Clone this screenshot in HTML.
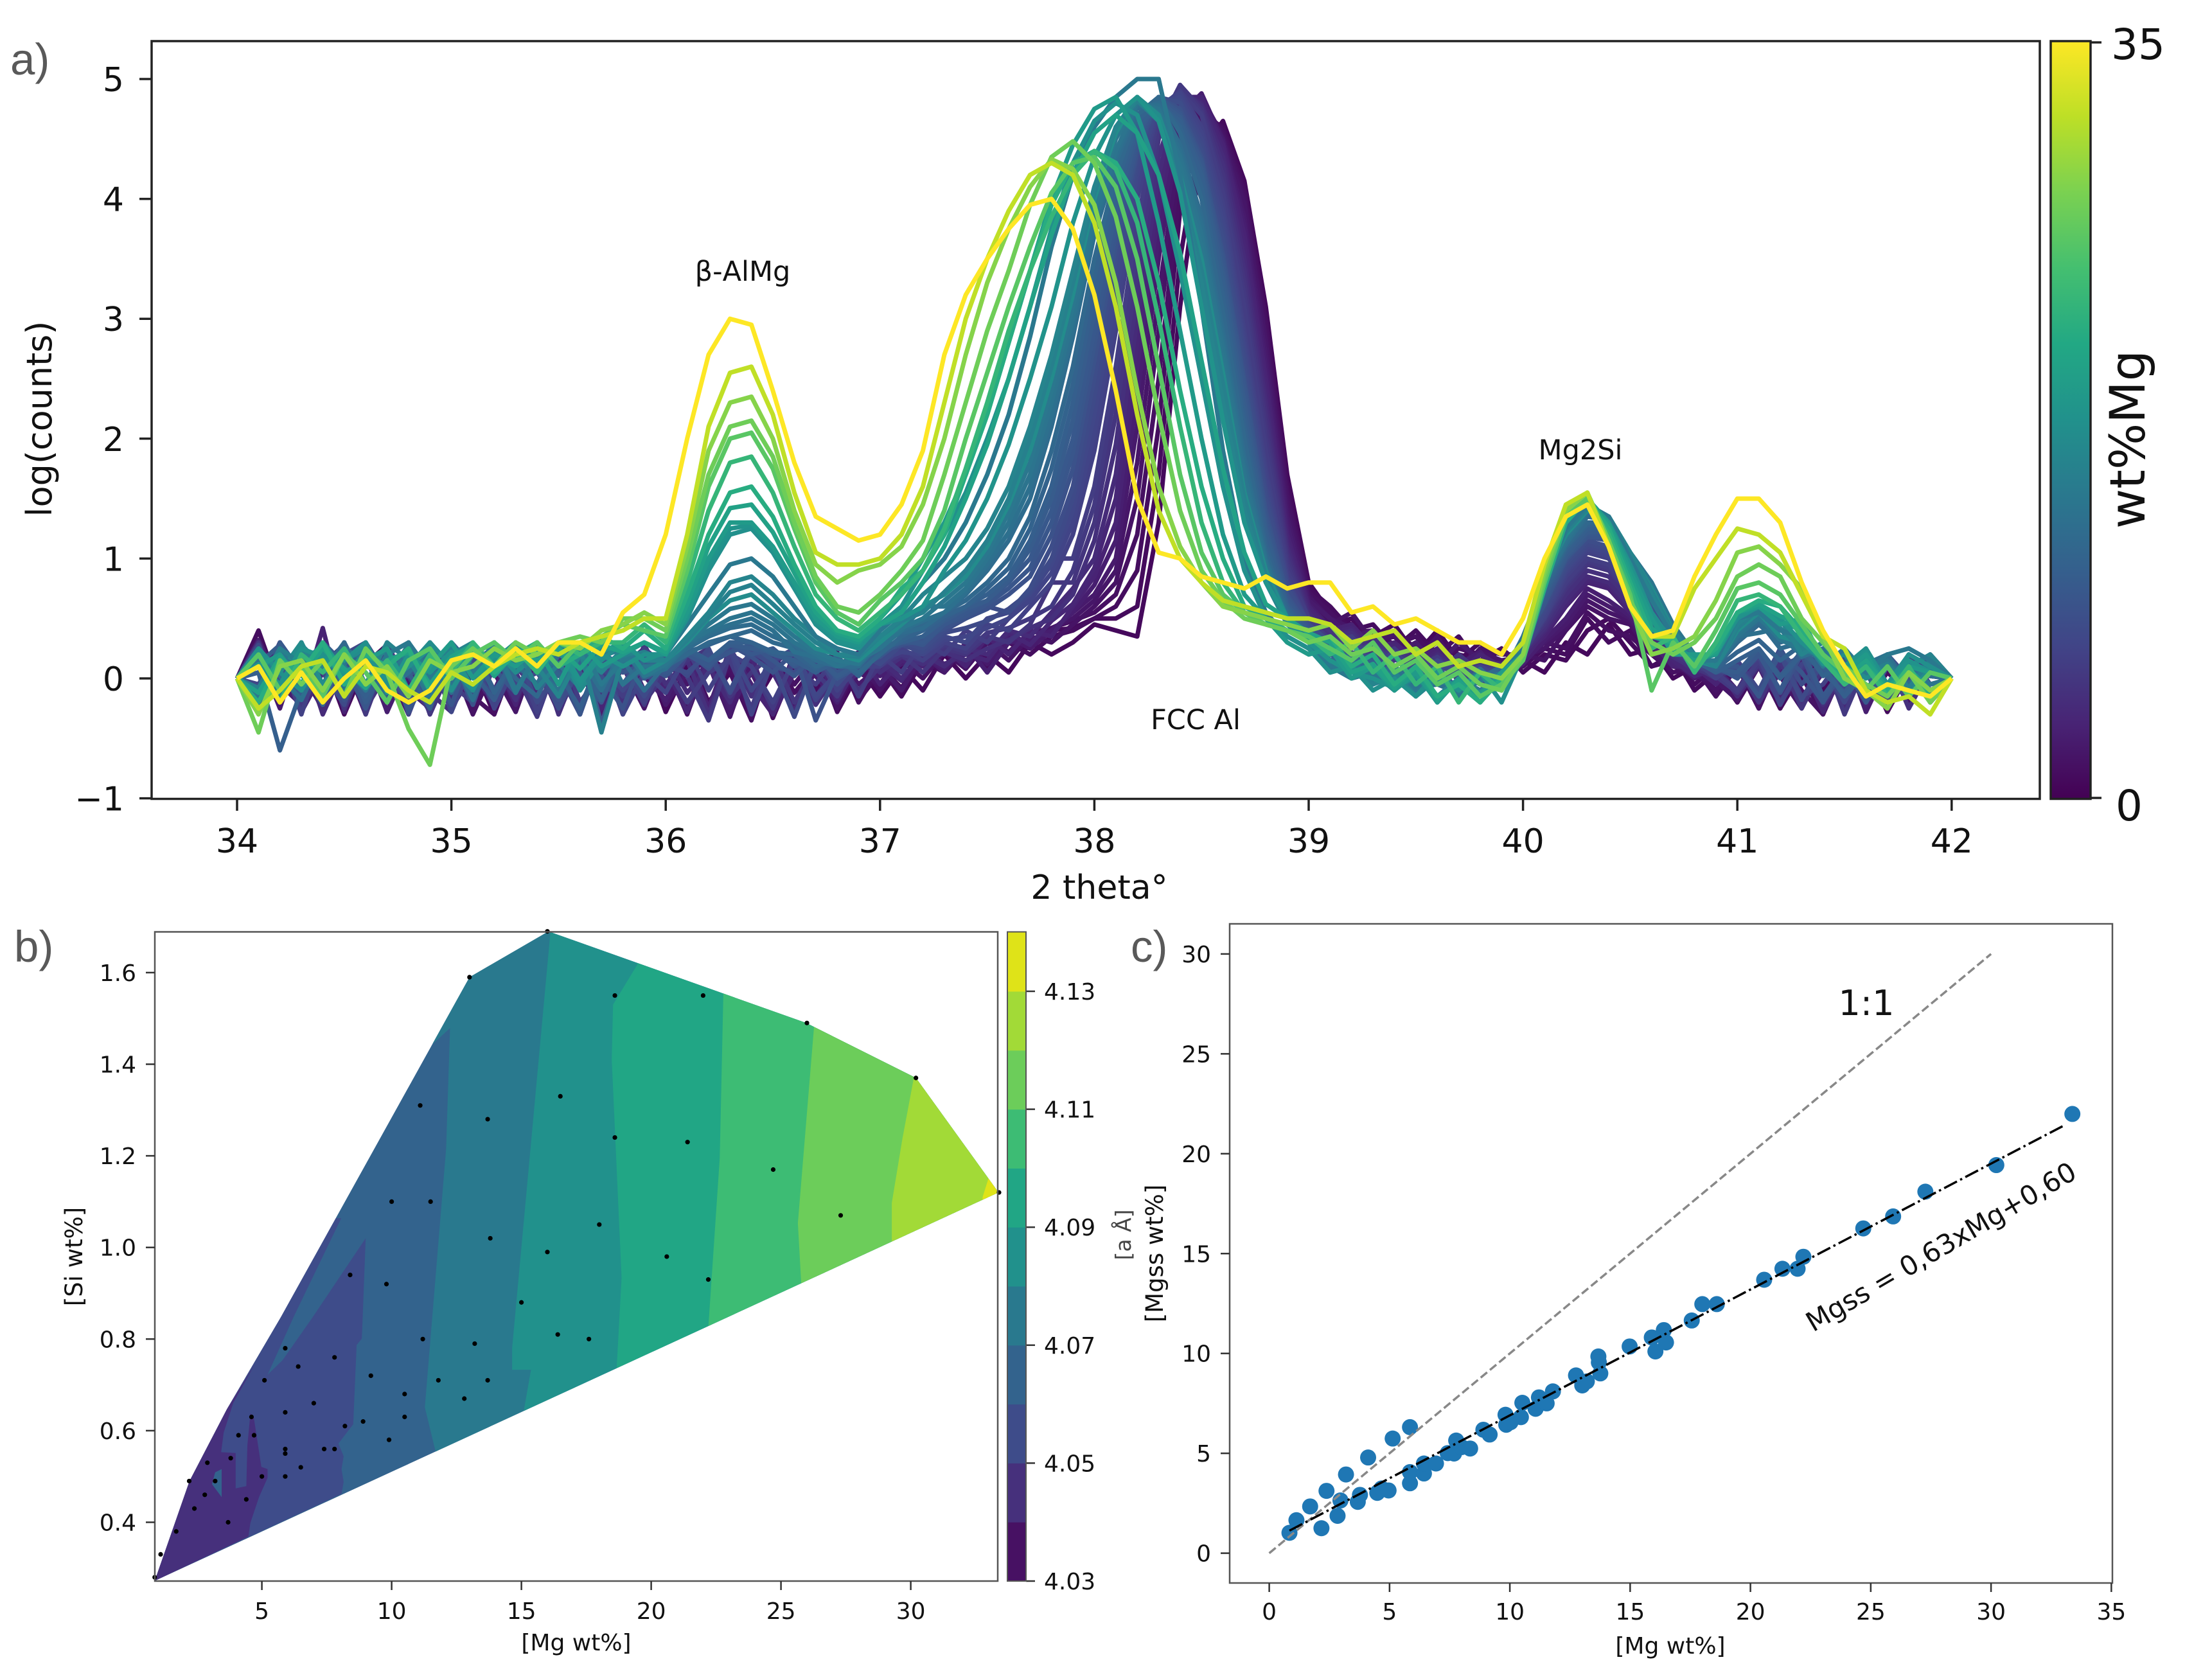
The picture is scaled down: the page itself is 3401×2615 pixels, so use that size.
<!DOCTYPE html>
<html>
<head>
<meta charset="utf-8">
<title>XRD spectra and Mg/Si composition charts</title>
<style>
html,body{margin:0;padding:0;background:#fff}
svg{display:block}
text{font-family:"DejaVu Sans","Liberation Sans",sans-serif;fill:#111}
.pl{font-family:"Liberation Sans",sans-serif;fill:#595959;font-size:69px}
</style>
</head>
<body>
<svg id="chart" xmlns="http://www.w3.org/2000/svg" width="3401" height="2615" viewBox="0 0 3401 2615">
<defs>
<linearGradient id="viridisGrad" x1="0" y1="1" x2="0" y2="0">
<stop offset="0" stop-color="#440154"/><stop offset=".1" stop-color="#482475"/><stop offset=".2" stop-color="#414487"/><stop offset=".3" stop-color="#355f8d"/><stop offset=".4" stop-color="#2a788e"/><stop offset=".5" stop-color="#21918c"/><stop offset=".6" stop-color="#22a884"/><stop offset=".7" stop-color="#44bf70"/><stop offset=".8" stop-color="#7ad151"/><stop offset=".9" stop-color="#bddf26"/><stop offset="1" stop-color="#fde725"/>
</linearGradient>
<clipPath id="hullClip"><polygon id="hullClipShape" points=""/></clipPath>
</defs>
<rect width="3401" height="2615" fill="#fff"/>

<g id="panelA">
<g id="aLines" fill="none" stroke-linejoin="round" stroke-width="7"></g>
<rect x="236" y="64" width="2939" height="1179.5" fill="none" stroke="#222" stroke-width="3.5"/>
<g id="aTicks"></g>
<text class="pl" x="16" y="116">a)</text>
<text x="1711" y="1399" font-size="52" text-anchor="middle">2 theta°</text>
<text transform="translate(80,652) rotate(-90)" font-size="54" text-anchor="middle">log(counts)</text>
<text x="1156" y="437" font-size="43" text-anchor="middle">β-AlMg</text>
<text x="2460" y="715" font-size="43" text-anchor="middle">Mg2Si</text>
<text x="1861" y="1135" font-size="43" text-anchor="middle">FCC Al</text>
<rect x="3192" y="64" width="62" height="1179.5" fill="url(#viridisGrad)" stroke="#222" stroke-width="3.5"/>
<line x1="3254" x2="3271" y1="66" y2="66" stroke="#222" stroke-width="3.5"/>
<line x1="3254" x2="3271" y1="1242" y2="1242" stroke="#222" stroke-width="3.5"/>
<text x="3286" y="92" font-size="66">35</text>
<text x="3293" y="1277" font-size="66">0</text>
<text transform="translate(3338,684) rotate(-90)" font-size="76" text-anchor="middle">wt%Mg</text>
</g>

<g id="panelB">
<g id="bContour" clip-path="url(#hullClip)"></g>
<g id="bDots"></g>
<rect x="241" y="1450.5" width="1312" height="1010.5" fill="none" stroke="#555" stroke-width="2.5"/>
<g id="bTicks"></g>
<g id="bBar"></g>
<rect x="1568" y="1450.5" width="29" height="1010.5" fill="none" stroke="#555" stroke-width="2"/>
<text class="pl" x="22" y="1497">b)</text>
<text x="897" y="2569" font-size="36" text-anchor="middle">[Mg wt%]</text>
<text transform="translate(128,1956) rotate(-90)" font-size="37" text-anchor="middle">[Si wt%]</text>
</g>

<g id="panelC">
<g id="cMarks"></g>
<rect x="1914" y="1438" width="1374" height="1026" fill="none" stroke="#555" stroke-width="2.5"/>
<g id="cTicks"></g>
<text class="pl" x="1760" y="1497">c)</text>
<text x="2600" y="2574" font-size="36" text-anchor="middle">[Mg wt%]</text>
<text transform="translate(1810,1951) rotate(-90)" font-size="37" text-anchor="middle">[Mgss wt%]</text>
<text transform="translate(1760,1922) rotate(-90)" font-size="33" text-anchor="middle" style="fill:#444">[a Å]</text>
<text x="2905" y="1580" font-size="54" text-anchor="middle">1:1</text>
<text transform="translate(2822,2074) rotate(-30.3)" font-size="42">Mgss = 0,63xMg+0,60</text>
</g>
</svg>

<script>
/* ---------- panel a data: 2 theta sampled from 34 to 42 every 0.1 ---------- */
const thetaStart = 34;
const thetaStep = 0.1;
const aXTicks = [34,35,36,37,38,39,40,41,42];
const aYTicks = [-1,0,1,2,3,4,5];
const aYTickLabels = ['\u22121','0','1','2','3','4','5'];
const mgWt = [0.8,0.95,1.1,1.4,1.7,2,2.4,2.8,3.2,3.6,4.1,4.6,5.1,5.5,5.9,6.4,6.7,7,7.4,7.8,8.4,8.9,9.2,9.6,10,10.5,11.2,11.8,12.3,12.8,13.2,16,14.4,15,13.4,16.5,17,18,19,20.6,22,24.7,26,27.3,30.2,33.4];
const spectra = [
[0,.25,-.2,.15,-.28,.2,-.15,.22,-.25,.3, -.2,.12,-.3,.18,-.1,.25,-.25,.1,-.2,.22, -.28,.1,-.3,.15,-.25,.05,-.2,.12,-.22,.1, -.15,.1,-.1,.2,0,.2,.05,.3,.2,.3, .45,.4,.35,1.3,3.1,4.4,4.65,4.15,3.1,1.7, .8,.55,.45,.35,.45,.2,.4,.15,.3,.1, .15,.05,.3,.2,.45,.2,.25,0,.1,-.1, .1,-.15,.05,-.2,.1,-.25,.08,-.15,.15,-.1, 0],
[0,-.1,.3,-.25,.18,-.3,.12,.28,-.2,.05, .25,-.28,.2,-.15,.3,-.22,.05,.2,-.3,.12, -.1,.22,-.2,.05,.2,-.33,.1,.2,-.28,.05, .1,-.15,.15,.05,.25,.1,.3,.25,.4,.42, .5,.5,.6,1.7,3.5,4.55,4.62,4.12,3.05,1.65, .78,.45,.5,.3,.4,.25,.3,.2,.15,.25, .05,.2,.15,.4,.5,.3,.1,.2,-.1,.05, -.2,.12,-.25,.05,.15,-.2,.1,-.28,.05,.15, 0],
[0,.4,-.1,.2,-.2,.3,-.25,.1,-.3,.2, -.1,.25,-.2,.05,-.3,.2,-.05,.25,-.28,.05, .1,-.25,.2,-.2,.1,-.28,.15,-.1,.2,-.18, .05,-.1,.15,.05,.25,.1,.3,.2,.35,.4, .5,.6,.9,2.1,3.9,4.7,4.6,4.1,3,1.6, .75,.6,.4,.45,.25,.4,.2,.35,.1,.25, .1,.25,.2,.5,.3,.4,.1,.15,-.05,.1, -.2,.1,-.25,.12,-.1,.2,-.2,.05,-.1,.2, 0],
[0,.2,-.15,.3,-.2,.1,.25,-.28,.15,-.05, .28,-.15,-.3,.2,.08,-.25,.2,-.1,.25,-.2, .12,-.3,.18,.05,-.35,.2,-.12,.1,.22,-.2, .1,-.08,.2,.1,.28,.15,.35,.3,.42,.48, .55,.7,1.2,2.5,4.1,4.75,4.58,4.05,2.95,1.55, .72,.55,.38,.4,.28,.35,.15,.25,.2,.1, .15,.3,.25,.55,.4,.35,.2,.05,.1,-.15, .1,-.25,.15,.02,-.3,.12,-.15,.2,-.05,.12, 0],
[0,-.15,.28,-.25,.1,-.2,.25,-.1,.3,-.22, .15,-.3,.1,-.15,.25,-.2,.18,-.28,.22,-.1, .05,.2,-.22,.12,-.3,.2,-.05,.18,-.25,.15, -.1,.15,0,.22,.08,.3,.15,.35,.3,.45, .6,.8,1.5,2.9,4.3,4.8,4.55,4,2.85,1.5, .7,.45,.55,.3,.35,.15,.35,.05,.25,.2, .2,.15,.4,.6,.5,.45,.2,.1,.05,-.1, .15,-.25,.2,-.1,-.3,.1,-.15,.2,-.2,.05, 0],
[0,-.2,.2,.05,-.25,.28,-.1,.15,-.3,.22, -.12,.18,.05,-.28,.22,-.15,.28,-.05,.1,-.25, .2,-.05,.12,-.32,.2,.08,-.25,.22,-.1,.05, -.05,.2,.05,.22,.12,.32,.22,.38,.42,.5, .65,.9,1.8,3.2,4.45,4.85,4.52,3.95,2.8,1.42, .68,.5,.42,.28,.38,.18,.3,.08,.22,.15, .18,.25,.42,.65,.55,.48,.22,.12,.02,-.02, -.18,.15,.02,-.25,.12,-.1,.2,-.22,.1,.02, 0],
[0,.2,-.25,.3,-.1,.15,-.3,.25,-.05,.2, -.25,.05,.22,-.2,.12,-.28,.1,.25,-.15,.18, -.22,.05,.15,-.3,.12,.2,-.2,.05,.18,-.05, .1,-.1,.2,.05,.3,.12,.35,.25,.4,.55, .7,1,2.1,3.5,4.6,4.85,4.5,3.85,2.7,1.35, .65,.5,.35,.4,.2,.3,.1,.3,.15,.05, .15,.3,.45,.7,.6,.5,.25,.15,0,.1, -.1,.2,-.2,.15,-.25,.05,.2,-.1,.15,-.2, 0],
[0,.32,-.05,-.22,.25,-.12,.2,-.28,.12,.18, -.25,.22,-.1,.28,-.2,.05,.2,-.32,.15,.02, -.18,.18,.2,-.25,.05,-.3,.22,.02,-.2,.15, .02,.12,.18,.08,.28,.05,.3,.32,.4,.55, .78,1.15,2.35,3.7,4.7,4.88,4.48,3.78,2.6,1.28, .62,.42,.38,.32,.25,.22,.18,.12,.22,.02, .12,.32,.5,.75,.65,.52,.28,.12,.08,.05, .1,-.1,.2,-.2,.05,.22,-.28,.1,-.12,.05, 0],
[0,-.1,.3,-.2,.42,-.28,.2,-.12,.28,-.3, .2,-.1,.15,-.22,.3,-.15,.05,-.25,.1,.25, -.1,.2,-.25,.25,-.05,-.3,.15,-.15,.1,.22, -.05,.15,.1,.25,.1,.35,.2,.4,.35,.6, .85,1.3,2.6,3.9,4.8,4.85,4.45,3.7,2.5,1.2, .6,.4,.45,.25,.3,.15,.25,.05,.2,.1, .2,.35,.6,.8,.75,.55,.3,.1,.1,-.05, .15,-.2,.05,.2,-.18,.1,-.22,.15,-.05,.12, 0],
[0,.12,.25,-.28,.05,.22,-.2,.3,-.1,-.25, .18,.05,-.22,.28,-.15,.2,.08,-.25,.28,-.1, .08,-.28,.22,-.1,.18,-.3,.05,.2,-.18,.12, .12,-.02,.22,.12,.2,.15,.38,.28,.48,.62, .92,1.5,2.8,4.05,4.85,4.85,4.4,3.6,2.4,1.15, .58,.38,.42,.22,.28,.12,.22,.02,.15,.12, .15,.38,.62,.82,.78,.58,.32,.15,.02,.08, -.1,.18,-.15,.12,-.28,.08,.15,-.18,.05,-.1, 0],
[0,.15,-.15,.25,-.3,.1,.25,-.2,.05,.22, -.15,.28,-.25,.1,-.1,.2,-.3,.22,-.05,.15, .2,-.12,.1,-.2,.22,.05,-.28,.2,-.1,.05, .15,0,.2,.1,.25,.2,.4,.35,.55,.75, 1,1.7,3,4.2,4.9,4.8,4.35,3.5,2.3,1.1, .55,.35,.4,.2,.25,.05,.2,.1,.15,0, .2,.4,.65,.85,.8,.6,.35,.2,.05,.1, -.15,.1,-.2,.05,.18,-.25,.1,-.1,.2,-.05, 0],
[0,-.22,.1,.2,-.18,.3,-.25,.05,.22,-.12, -.28,.2,.12,-.18,.25,-.3,.15,.02,-.2,.28, -.05,.15,-.3,.22,-.15,.12,.25,-.22,.05,.18, .05,.18,.12,.22,.15,.25,.32,.42,.5,.7, 1.15,1.95,3.2,4.35,4.92,4.78,4.28,3.4,2.2,1.05, .52,.35,.38,.18,.25,.1,.18,.08,.12,.02, .22,.42,.7,.9,.85,.65,.4,.18,.08,.02, .12,-.18,.1,.18,-.22,.05,-.12,.18,-.25,.08, 0],
[0,.3,-.2,.05,.25,-.25,.15,-.05,.2,-.3, .1,.22,-.18,.2,-.25,.1,.2,-.12,.28,-.2, .05,.15,.25,-.15,.05,.2,-.2,.1,.15,-.1, .1,.2,.05,.25,.2,.35,.3,.45,.8,.8, 1.3,2.2,3.4,4.5,4.95,4.75,4.2,3.3,2.1,1, .5,.4,.25,.35,.15,.25,.05,.2,.05,.1, .25,.45,.75,.95,.9,.7,.45,.2,.1,0, .1,-.2,.15,-.25,.1,.05,-.15,.2,-.1,.15, 0],
[0,.05,.22,-.25,.12,.28,-.3,.18,.02,-.28, .22,-.12,.25,.05,-.32,.18,.25,-.08,.12,-.22, .22,.02,-.35,.2,.1,-.25,.18,.05,-.15,.2, .12,.2,.15,.28,.22,.38,.42,.5,.6,.9, 1.45,2.4,3.6,4.6,4.95,4.72,4.12,3.2,2,.95, .5,.32,.35,.15,.25,.08,.18,-.02,.12,.05, .22,.48,.78,.98,.92,.7,.48,.22,.12,.02, -.12,.12,-.2,.08,.2,-.3,.12,-.08,.2,-.12, 0],
[0,-.25,.2,.05,-.15,.3,-.1,.2,-.28,.1, -.05,-.2,.25,-.1,.15,.3,-.2,.05,-.15,.25, .1,-.2,.05,.15,-.25,.25,.1,-.05,.2,-.15, .2,.05,.3,.2,.4,.3,.5,.7,1,1, 1.6,2.6,3.8,4.7,4.9,4.7,4.05,3.1,1.9,.9, .5,.3,.35,.15,.2,.1,.15,0,.1,.05, .2,.5,.8,1,.95,.7,.5,.25,.1,.05, -.1,.15,-.2,.1,.2,-.15,.05,-.2,.2,.05, 0],
[0,.1,.2,-.3,.25,.05,-.2,.28,-.1,-.05, .25,-.1,.05,.2,-.28,.12,.25,-.05,.1,-.2, .15,.25,-.1,.2,.1,-.2,.15,.2,-.1,.1, .1,.25,.15,.3,.25,.45,.4,.6,.8,1.2, 1.9,2.9,4,4.75,4.9,4.6,3.95,2.9,1.75,.85, .45,.3,.2,.3,.1,.2,.05,.15,.05,.1, .25,.5,.85,1.05,1,.75,.5,.25,.15,0, .15,-.1,.2,-.15,-.05,.2,-.2,.1,.05,-.1, 0],
[0,-.18,.12,.25,-.2,.18,-.05,.28,-.3,.15, .02,.2,-.25,.12,.28,-.15,.1,.22,-.3,.05, -.12,.2,.12,.25,-.3,.15,.22,-.18,.05,.18, .15,.22,.2,.32,.35,.42,.5,.65,.88,1.3, 2.05,3.05,4.1,4.78,4.88,4.55,3.88,2.82,1.68,.82, .45,.25,.32,.12,.22,.05,.12,.02,.1,0, .22,.52,.88,1.08,1.02,.78,.52,.28,.12,.08, .02,.18,-.22,.12,.2,-.1,.1,-.25,.12,.02, 0],
[0,-.05,.25,.1,-.2,.2,.3,-.15,.1,.2, -.28,.15,.25,-.05,.05,-.2,.25,.1,-.1,.1, .05,.2,.1,.25,-.1,.15,.25,-.15,.05,.2, .15,.3,.2,.35,.3,.5,.55,.7,.95,1.4, 2.2,3.2,4.2,4.8,4.85,4.5,3.8,2.75,1.6,.8, .45,.25,.3,.1,.2,0,.15,.05,-.05,.1, .25,.55,.9,1.1,1.05,.8,.55,.3,.1,.1, 0,.2,-.1,.2,.1,-.2,.15,-.05,-.15,.15, 0],
[0,.28,-.12,.18,.05,-.22,.3,.02,-.2,.12, .25,-.15,.12,.22,-.2,.05,-.3,.2,.12,-.15, .18,.02,.25,-.12,.22,.12,-.32,.15,.02,.2, .12,.28,.22,.38,.42,.48,.58,.72,1,1.5, 2.35,3.35,4.28,4.82,4.82,4.45,3.72,2.68,1.55,.78, .45,.25,.22,.1,.18,-.02,.12,.05,0,.1, .28,.58,.92,1.12,1.08,.82,.58,.3,.12,.08, .08,-.12,.2,-.18,.15,-.12,.2,-.1,.1,-.05, 0],
[0,.2,0,.25,-.2,.05,.3,-.05,.15,-.2, .2,.05,-.15,.25,.1,-.25,.1,.2,-.05,.2, .1,.05,.2,-.1,.25,.1,.05,.2,-.05,.15, .2,.3,.25,.4,.5,.6,.55,.75,1.1,1.6, 2.5,3.5,4.35,4.85,4.8,4.4,3.65,2.6,1.5,.75, .45,.3,.15,.2,.05,.15,-.05,.1,0,.05, .3,.6,.95,1.15,1.1,.85,.6,.3,.15,.05, .1,-.1,.25,-.05,.15,.1,-.2,.2,0,-.1, 0],
[0,-.12,.22,.02,.28,-.18,.12,.25,-.28,.08, .18,-.22,.28,.05,.12,-.18,.22,.02,-.25,.2, .05,.22,.08,.28,.18,.05,.22,-.35,.05,.12, .22,.28,.32,.42,.5,.58,.7,.85,1.2,1.75, 2.65,3.6,4.4,4.85,4.75,4.35,3.55,2.5,1.4,.7, .42,.25,.12,.18,.02,.1,-.05,.08,.02,.08, .3,.62,.98,1.18,1.15,.88,.62,.32,.15,.08, .02,.22,-.12,.2,-.2,.08,-.18,.18,-.08,.12, 0],
[0,.22,.08,-.15,.3,.12,-.25,.2,.02,.18, -.22,.25,.08,-.12,.22,.12,-.3,.2,.05,.12, .02,.2,.12,.22,.28,.15,.02,.2,.05,.12, .18,.32,.28,.45,.52,.62,.75,.92,1.3,1.88, 2.78,3.7,4.45,4.85,4.72,4.32,3.5,2.45,1.35,.68, .4,.22,.15,.15,.02,.05,.08,-.1,.05,0, .3,.62,1,1.18,1.18,.9,.62,.32,.15,.1, .1,-.15,.22,.05,-.2,.15,.05,-.25,.15,.02, 0],
[0,-.2,.3,.05,.2,-.15,.1,.25,-.25,.15, .05,.25,-.1,.15,-.05,.3,.05,-.2,.2,.1, .05,.2,.1,.3,.2,.25,.1,.2,0,.1, .2,.3,.3,.45,.55,.65,.8,1,1.4,2, 2.9,3.8,4.5,4.85,4.7,4.3,3.45,2.4,1.3,.65, .4,.25,.1,.2,-.05,.1,.05,-.1,.05,0, .3,.65,1,1.2,1.2,.9,.65,.35,.15,.1, 0,.2,-.1,.25,-.15,.1,-.2,.1,-.1,.2, 0],
[0,.12,.28,-.1,.08,.25,-.2,.12,.22,-.12, .28,.05,-.18,.2,.1,-.05,.28,-.38,.15,.2, .08,.22,.15,.28,.25,.22,.12,.18,.02,.12, .28,.3,.35,.48,.58,.65,.82,1.08,1.5,2.15, 3.05,3.9,4.55,4.82,4.68,4.25,3.38,2.3,1.25,.62, .38,.22,.1,.15,-.02,.08,.05,-.12,.02,-.02, .3,.68,1.02,1.22,1.22,.92,.68,.38,.15,.08, .05,.25,.02,.22,.05,-.12,.12,-.15,.15,-.05, 0],
[0,.05,-.6,-.1,.3,.1,-.15,.2,.05,-.25, .3,.1,.2,-.1,.2,.05,-.25,.2,.25,0, .1,.25,.15,.3,.3,.2,.15,.05,.15,.1, .25,.3,.35,.5,.6,.7,.85,1.15,1.6,2.3, 3.2,4,4.6,4.8,4.65,4.2,3.3,2.2,1.2,.6, .35,.2,.1,.15,0,.05,.1,-.1,.05,-.05, .3,.7,1.05,1.25,1.25,.95,.7,.4,.15,.05, .15,.25,0,.2,.1,-.15,.05,.15,-.1,.1, 0],
[0,-.18,.2,.08,-.22,.25,.12,.02,.28,-.15, .12,.25,-.12,.18,.28,.02,.15,-.18,.22,.08, .12,.22,.28,.35,.3,.22,.2,.08,.18,.02, .22,.32,.4,.52,.6,.75,.92,1.25,1.75,2.45, 3.35,4.1,4.65,4.82,4.6,4.1,3.18,2.1,1.12,.58, .35,.15,.18,0,.08,-.08,.02,-.12,.05,.02, .32,.72,1.08,1.28,1.28,.98,.72,.4,.18,.08, .22,.32,.15,.28,.02,.12,-.12,.2,-.05,.12, 0],
[0,.15,-.1,.2,.05,.3,-.05,.1,.25,-.15, .1,.2,.3,0,-.15,.2,.1,.25,-.05,.15, .1,.2,.3,.35,.4,.3,.25,.1,.15,.05, .2,.35,.45,.55,.65,.8,1,1.35,1.9,2.6, 3.5,4.2,4.7,4.85,4.55,4,3.05,2,1.05,.55, .35,.15,.2,.05,.1,-.05,.05,-.1,0,.1, .3,.75,1.1,1.3,1.3,1,.75,.4,.2,.1, .3,.45,.3,.35,.1,.2,-.1,.15,-.05,.15, 0],
[0,-.12,.22,.12,.28,-.08,.2,-.2,.15,.25, -.12,.22,.05,.28,.15,-.12,.22,.08,.15,-.1, .12,.25,.35,.42,.45,.35,.28,.15,.1,.1, .3,.38,.42,.55,.7,.9,1.15,1.5,2.1,2.85, 3.7,4.3,4.75,4.8,4.45,3.85,2.9,1.85,1,.52, .32,.12,.1,.02,.08,-.12,0,-.1,.08,-.08, .32,.78,1.12,1.35,1.32,1.02,.78,.42,.2,.1, .32,.48,.25,.3,.12,.05,.18,-.15,.1,.02, 0],
[0,.22,.02,-.18,.2,.12,.28,-.1,.05,.22, .18,-.18,.25,.12,-.05,.22,.18,-.1,.25,.02, .08,.28,.38,.45,.5,.4,.22,.18,.12,.18, .28,.4,.48,.55,.72,.95,1.22,1.6,2.2,2.92, 3.75,4.35,4.78,4.78,4.4,3.78,2.82,1.78,.98,.5, .3,.1,.12,-.02,.1,-.08,-.05,-.12,.02,.02, .32,.8,1.12,1.38,1.35,1.05,.8,.42,.18,.12, .35,.38,.42,.18,.25,-.02,.12,.2,-.1,.08, 0],
[0,-.1,.2,.1,-.05,.25,.15,-.1,.3,.05, -.05,.25,.1,.3,.05,-.1,.2,.3,-.05,.1, .1,.3,.4,.5,.55,.45,.3,.2,.1,.15, .25,.4,.6,.6,.75,1,1.3,1.7,2.3,3, 3.8,4.4,4.8,4.75,4.35,3.7,2.75,1.7,.95,.5, .3,.1,.15,0,.05,-.1,.05,-.15,.05,0, .35,.8,1.15,1.4,1.35,1.05,.8,.45,.2,.1, .35,.5,.35,.2,.3,.05,.15,-.1,.1,-.05, 0],
[0,.18,-.08,.28,.1,-.12,.22,.05,.18,-.18, .2,.05,.28,-.12,.22,.12,-.08,.18,.25,.02, .12,.3,.45,.58,.62,.5,.35,.22,.15,.12, .32,.42,.5,.65,.8,1.05,1.38,1.8,2.4,3.1, 3.9,4.5,4.82,4.72,4.28,3.6,2.65,1.62,.92,.5, .3,.08,.12,-.05,.02,-.12,.05,-.12,-.02,.05, .32,.82,1.18,1.4,1.35,1.05,.78,.42,.18,.1, .38,.52,.32,.25,.22,.1,.02,.15,-.08,.12, 0],
[0,.2,.05,.3,-.05,.15,.25,0,.1,.3, .1,-.1,.25,.05,.2,.25,-.1,.15,.3,.05, .15,.3,.5,.65,.7,.55,.4,.25,.2,.15, .3,.45,.6,.7,.85,1.1,1.45,1.9,2.5,3.2, 4,4.55,4.85,4.7,4.2,3.5,2.55,1.55,.9,.5, .3,.1,0,.1,-.05,.05,-.15,0,-.1,.05, .3,.85,1.2,1.4,1.35,1.05,.75,.4,.15,.1, .4,.55,.35,.3,.15,.2,0,.1,-.1,.1, 0],
[0,-.08,.25,.12,.28,-.05,.18,.22,-.1,.15, .25,.02,.18,.28,-.08,.12,.25,-.45,.18,.22, .15,.32,.52,.72,.78,.62,.45,.3,.2,.18, .35,.48,.55,.72,.9,1.15,1.5,2,2.6,3.3, 4.05,4.6,4.82,4.65,4.15,3.4,2.45,1.5,.85,.45, .3,.08,.05,.08,-.08,0,-.15,-.02,-.12,.02, .3,.85,1.22,1.42,1.35,1.05,.72,.38,.18,.1, .42,.58,.42,.25,.18,.12,.05,.12,-.08,.15, 0],
[0,.1,-.15,.25,.1,.2,-.05,.3,.15,-.1, .2,.3,.05,.25,.1,-.15,.2,.05,.25,.15, .15,.35,.55,.8,.85,.7,.5,.35,.2,.2, .35,.5,.7,.85,1,1.25,1.6,2.1,2.7,3.4, 4.1,4.6,4.85,4.65,4.1,3.3,2.3,1.4,.8,.45, .3,.05,.1,-.05,.05,-.15,0,-.1,.05,-.1, .3,.85,1.25,1.45,1.35,1.05,.7,.35,.2,.1, .45,.6,.5,.2,.3,.05,.2,-.05,.1,.2, 0],
[0,-.15,.2,.05,.25,.1,-.1,.2,.3,0, .15,.05,.3,-.1,.2,.1,.3,-.05,.15,.2, .2,.45,.7,.95,1,.85,.6,.35,.25,.2, .4,.55,.8,1,1.3,1.7,2.2,2.85,3.6,4.2, 4.6,4.85,5,5,4.2,3.1,1.9,1,.55,.35, .25,.1,0,.05,-.1,.05,-.2,0,-.1,.05, .25,.8,1.25,1.45,1.35,1,.65,.35,.15,.15, .5,.55,.4,.35,.1,.25,.05,.2,.25,.15, 0],
[0,.25,.05,-.1,.2,.15,.3,-.05,.1,.25, -.1,.2,.15,.3,.05,.25,-.05,.2,.1,.2, .2,.5,.9,1.2,1.25,1.05,.75,.45,.3,.25, .45,.6,.9,1.2,1.55,2,2.5,3.1,3.75,4.3, 4.65,4.8,4.7,4.2,3.4,2.5,1.6,.9,.5,.35, .25,.05,.1,-.1,0,-.15,.05,-.1,.05,-.2, .2,.8,1.3,1.5,1.3,.95,.55,.3,.15,.2, .5,.6,.5,.3,.15,.1,.25,-.05,.2,.1, 0],
[0,.12,-.05,.25,.18,.02,.22,-.12,.2,.05, .22,-.08,.18,.25,.1,.28,-.02,.22,.3,.15, .22,.52,.95,1.25,1.28,1.08,.78,.48,.32,.28, .45,.5,.6,.9,1.15,1.5,1.95,2.5,3.1,3.8, 4.35,4.7,4.85,4.65,4.05,3.1,2.15,1.3,.8,.5, .3,.15,.05,0,-.08,.02,-.15,-.05,-.12,.02, .2,.8,1.3,1.5,1.3,.92,.52,.25,.18,.2, .52,.6,.48,.4,.12,.08,.22,-.08,.15,.05, 0],
[0,.1,.2,-.05,.3,.05,.15,.25,-.1,.1, .3,0,.2,.1,.25,-.05,.3,.1,.2,.3, .2,.55,1,1.3,1.3,1.1,.8,.5,.35,.3, .5,.7,1,1.3,1.7,2.2,2.8,3.4,4,4.45, 4.75,4.85,4.55,3.8,2.9,2,1.2,.7,.5,.3, .2,.25,0,.1,-.1,.05,-.2,0,-.15,.05, .2,.8,1.3,1.5,1.3,.9,.5,.2,.2,.2, .55,.6,.45,.5,.15,.05,.2,-.1,.1,.05, 0],
[0,-.12,.18,.02,.25,.08,-.08,.15,.22,-.05, .18,.28,.02,.22,.15,.25,.08,.28,.22,.3, .22,.62,1.1,1.42,1.45,1.22,.88,.55,.38,.32, .45,.55,.8,1.1,1.5,1.95,2.5,3.1,3.7,4.2, 4.55,4.7,4.55,4.2,3.55,2.65,1.75,1.05,.62,.5, .38,.3,.05,.12,-.08,.1,-.18,-.02,-.2,.02, .18,.78,1.3,1.5,1.28,.85,.42,.25,.15,.22, .55,.62,.52,.45,.18,0,.15,-.08,.08,-.1, 0],
[0,-.2,.15,.05,.3,-.05,.2,.1,.25,-.1, .15,.25,.05,.2,.3,.1,.2,.35,.25,.4, .25,.7,1.2,1.55,1.6,1.35,.95,.6,.4,.35, .5,.75,.9,1.2,1.7,2.2,2.8,3.4,3.95,4.3, 4.4,4.3,4,3.3,2.4,1.6,1,.6,.5,.4, .3,.35,.1,.2,-.05,.1,-.15,-.05,-.2,0, .15,.75,1.3,1.5,1.25,.8,.35,.3,.1,.25, .55,.65,.6,.4,.2,-.05,.1,-.1,.05,-.15, 0],
[0,.1,-.2,.2,.05,.25,-.05,.15,-.1,.2, .05,.3,.1,.25,.05,.3,.2,.3,.3,.45, .3,.8,1.4,1.8,1.85,1.55,1.1,.7,.5,.4, .55,.7,.9,1.25,1.75,2.3,2.9,3.4,3.85,4.2, 4.4,4.25,3.8,3,2.1,1.3,.8,.55,.45,.4, .35,.2,.3,.05,.2,-.05,.1,-.2,.05,-.1, .2,.8,1.35,1.5,1.2,.75,.25,.35,.05,.3, .65,.7,.6,.35,.15,-.05,.1,-.15,.1,-.2, 0],
[0,.2,-.1,.1,-.15,.2,.05,-.2,.15,.25, 0,.2,.3,.15,.3,.1,.3,.35,.45,.4, .35,.9,1.6,2,2.05,1.75,1.25,.8,.55,.45, .65,.8,1,1.4,2,2.55,3.1,3.6,4.05,4.3, 4.35,4.1,3.5,2.6,1.7,1.05,.7,.55,.45,.4, .35,.25,.15,.3,.05,.15,-.05,.05,-.15,-.05, .15,.8,1.35,1.5,1.15,.7,-.1,.3,.1,.4, .75,.8,.7,.45,.2,.05,-.1,.1,-.15,.05, 0],
[0,-.45,.15,-.05,.15,-.15,.25,.05,-.42,-.72, .1,.25,.1,.3,.2,.3,.35,.3,.5,.5, .4,1,1.7,2.1,2.15,1.85,1.3,.85,.6,.55, .7,.9,1.15,1.7,2.3,2.9,3.4,3.95,4.35,4.48, 4.3,3.85,3.1,2.2,1.4,.9,.65,.5,.45,.4, .3,.35,.2,.25,.1,.2,0,.1,-.05,-.1, .2,.85,1.4,1.55,1.15,.65,.3,.2,.3,.5, .85,.95,.85,.5,.3,.1,-.05,-.15,.05,-.2, 0],
[0,-.3,.1,.15,-.1,.2,-.05,.1,-.15,.15, .05,.1,.25,.15,.2,.3,.25,.4,.45,.55, .45,1.1,1.9,2.3,2.35,2,1.4,.95,.8,.9, .95,1.1,1.45,2,2.7,3.3,3.75,4.1,4.33,4.25, 3.95,3.3,2.4,1.6,1.1,.8,.6,.55,.5,.45, .4,.45,.25,.4,.2,.25,.1,.15,.05,0, .2,.9,1.4,1.55,1.1,.6,.2,.25,.35,.65, 1.05,1.1,.95,.75,.35,0,-.1,-.25,.05,-.1, 0],
[0,-.25,-.1,.1,.15,-.15,.1,.05,-.1,-.2, .05,-.05,.1,.2,.25,.2,.3,.35,.4,.5, .5,1.2,2.1,2.55,2.6,2.2,1.55,1.05,.95,.95, 1,1.2,1.6,2.3,3,3.5,3.9,4.2,4.3,4.2, 3.8,3.1,2.2,1.4,1,.8,.65,.6,.55,.5, .5,.45,.3,.35,.4,.2,.3,.1,.15,.1, .3,.95,1.45,1.55,1.1,.6,.35,.35,.75,1, 1.25,1.2,1.05,.7,.35,.25,-.1,-.2,-.15,-.3, 0],
[0,.1,-.2,.05,-.2,0,.15,-.1,-.2,-.1, .15,.2,.1,.25,.1,.3,.3,.2,.55,.7, 1.2,2,2.7,3,2.95,2.4,1.8,1.35,1.25,1.15, 1.2,1.45,1.9,2.7,3.2,3.5,3.75,3.95,4,3.75, 3.2,2.4,1.5,1.05,1,.85,.8,.75,.85,.75, .8,.8,.55,.6,.45,.5,.4,.3,.3,.2, .5,1,1.35,1.45,1.1,.6,.35,.4,.85,1.2, 1.5,1.5,1.3,.8,.4,.1,-.15,-.05,-.1,-.15, 0]
];

/* ---------- panel b data ---------- */
const bXTicks = [5,10,15,20,25,30];
const bYTicks = [0.4,0.6,0.8,1.0,1.2,1.4,1.6];
const bYTickLabels = ['0.4','0.6','0.8','1.0','1.2','1.4','1.6'];
const cbarLevels = [4.03,4.04,4.05,4.06,4.07,4.08,4.09,4.10,4.11,4.12,4.13,4.14];
const cbarColors = ['#471163','#46307c','#3e4c8a','#33638d','#29798e','#21918c','#21a685','#3dbc74','#6ccd5a','#a2da37','#dfe318'];
const cbarTicks = [4.03,4.05,4.07,4.09,4.11,4.13];
const hullMg = [0.87,2.21,3.65,5.73,13,16.04,25.97,30.2,33.38];
const hullSi = [0.272,0.49,0.647,0.848,1.59,1.69,1.49,1.37,1.12];
const darkMg = [0.87,2.21,3.65,4.73,3.9,3.53,3.43,3.99,3.99,4.4,4.44,4.56,4.69,4.98,5.22,5.22,4.89,4.56,4.48];
const darkSi = [0.272,0.49,0.647,0.745,0.661,0.596,0.553,0.551,0.474,0.479,0.567,0.638,0.628,0.521,0.516,0.497,0.455,0.399,0.369];
const patchMg = [3.45,3.2,3.08,3.45];
const patchSi = [0.516,0.509,0.483,0.455];
const midMg = [0.87,2.21,3.65,5.73,7.85,8.06,6.22,5.22,5.8,6.96,9,8.87,8.85,8.65,8.52,7.95,8.15,8.07,8.15,8.07];
const midSi = [0.272,0.49,0.647,0.848,1.064,1.064,0.848,0.722,0.754,0.848,1.02,0.825,0.801,0.787,0.614,0.572,0.544,0.516,0.488,0.462];
const band4Mg = [8,11.6,12.25,12.1,11.28,11.69,11.69];
const band4Si = [1.445,1.445,1.479,1.216,0.651,0.555,0.2];
const band5Mg = [16.12,16.12,14.64,14.64,15.37,15.1,15.1];
const band5Si = [2,1.689,0.78,0.733,0.733,0.646,0.2];
const band6Mg = [19.47,19.47,18.53,18.48,18.86,18.67,18.67];
const band6Si = [2,1.618,1.53,1.41,0.934,0.738,0.2];
const band7Mg = [22.78,22.78,22.64,22.2,22.2];
const band7Si = [2,1.553,1.195,0.825,0.2];
const band8Mg = [26.27,26.27,25.65,25.78,25.78];
const band8Si = [2,1.479,1.053,0.923,0.2];
const band9Mg = [30.13,30.13,29.68,29.27,29.27,29.27];
const band9Si = [2,1.374,1.238,1.097,1.015,0.2];
const band10Mg = [33.03,33.03,32.77,32.77];
const band10Si = [2,1.157,1.11,0.2];
const sampleMg = [13,16,18.6,22,26,30.2,33.4,11.1,13.7,16.5,18.6,21.4,24.7,27.3,10,11.5,13.8,18,16,20.6,22.2,8.4,9.8,15,11.2,13.2,16.4,17.6,5.9,7.8,6.4,5.1,9.2,11.8,13.7,10.5,12.8,7,5.9,4.6,10.5,8.9,8.2,4.1,4.7,9.9,5.9,7.4,7.8,5.9,3.8,2.9,6.5,5,5.9,2.2,3.2,2.8,4.4,2.4,3.7,1.7,1.1,0.87];
const sampleSi = [1.59,1.69,1.55,1.55,1.49,1.37,1.12,1.31,1.28,1.33,1.24,1.23,1.17,1.07,1.10,1.10,1.02,1.05,.99,.98,.93,.94,.92,.88,.80,.79,.81,.80,.78,.76,.74,.71,.72,.71,.71,.68,.67,.66,.64,.63,.63,.62,.61,.59,.59,.58,.56,.56,.56,.55,.54,.53,.52,.50,.50,.49,.49,.46,.45,.43,.40,.38,.33,.28];

/* ---------- panel c data ---------- */
const cXTicks = [0,5,10,15,20,25,30,35];
const cYTicks = [0,5,10,15,20,25,30];
const scatterMg = [.84,1.13,1.7,2.17,2.38,2.84,2.96,3.19,3.68,3.77,4.11,4.49,4.67,4.96,5.13,5.85,5.85,5.85,6.43,6.43,6.93,7.42,7.68,7.77,8,8.35,8.9,9.16,9.82,9.85,10.03,10.46,10.52,11.07,11.21,11.53,11.79,12.75,13.01,13.2,13.68,13.76,13.7,14.98,15.9,16.05,16.4,16.49,17.56,18,18.6,20.57,21.33,21.96,22.2,24.69,25.93,27.27,30.22,33.38];
const scatterMgss = [1.02,1.65,2.34,1.25,3.12,1.87,2.64,3.94,2.57,2.92,4.79,3.02,3.24,3.14,5.74,6.31,3.5,4.06,3.99,4.49,4.49,5.01,4.99,5.64,5.31,5.24,6.18,5.94,6.93,6.43,6.56,6.81,7.53,7.23,7.8,7.5,8.1,8.9,8.4,8.6,9.85,9,9.55,10.35,10.8,10.1,11.17,10.55,11.65,12.47,12.47,13.69,14.24,14.24,14.84,16.26,16.86,18.1,19.43,21.99];
const fitLineMg = [0.84,33.06];
const fitLineMgss = [1.13,21.43];
const identityMg = [0,30];
const identityMgss = [0,30];

/* ---------- axis functions ---------- */
function ax(v){return 369+(v-34)*333.6;}
function ay(v){return 1056-v*186.6;}
function bx(v){return 407.6+(v-5)*40.4;}
function by(v){return 2369.5-(v-0.4)*713;}
function cx(v){return 1975.6+v*37.45;}
function cy(v){return 2417.6-v*31.09;}

const NS = 'http://www.w3.org/2000/svg';
function mk(tag, attrs, parent){
  const e = document.createElementNS(NS, tag);
  for (const k in attrs) e.setAttribute(k, attrs[k]);
  parent.appendChild(e);
  return e;
}
const stops = ['#440154','#482475','#414487','#355f8d','#2a788e','#21918c','#22a884','#44bf70','#7ad151','#bddf26','#fde725'];
function viridis(t){
  t = Math.max(0, Math.min(1, t));
  const i = Math.min(9, Math.floor(t*10)), f = t*10-i;
  const a = stops[i], b = stops[i+1];
  let out = '#';
  for (let p = 1; p < 7; p += 2){
    const va = parseInt(a.substr(p,2),16), vb = parseInt(b.substr(p,2),16);
    out += Math.round(va+(vb-va)*f).toString(16).padStart(2,'0');
  }
  return out;
}
function pts(xs, ys, fx, fy){
  return xs.map(function(v,i){return fx(v).toFixed(1)+','+fy(ys[i]).toFixed(1);}).join(' ');
}

/* ---------- panel a ---------- */
const aLines = document.getElementById('aLines');
spectra.forEach(function(vals, s){
  const p = vals.map(function(v,i){return ax(thetaStart+i*thetaStep).toFixed(1)+','+ay(v).toFixed(1);}).join(' ');
  const line = mk('polyline', {points:p, stroke:viridis(mgWt[s]/33.4)}, aLines);
  
  
});
const aTicks = document.getElementById('aTicks');
aXTicks.forEach(function(v){
  const t = mk('line', {x1:ax(v),x2:ax(v),y1:1243,y2:1262,stroke:'#222','stroke-width':3.5}, aTicks);
  
  
  const l = mk('text', {x:ax(v),y:1327,'font-size':52,'text-anchor':'middle'}, aTicks);
  l.textContent = String(v);
  
  
});
aYTicks.forEach(function(v,i){
  const t = mk('line', {x1:217,x2:236,y1:ay(v),y2:ay(v),stroke:'#222','stroke-width':3.5}, aTicks);
  
  
  const l = mk('text', {x:193,y:ay(v)+19,'font-size':52,'text-anchor':'end'}, aTicks);
  l.textContent = aYTickLabels[i];
  
  
});

/* ---------- panel b ---------- */
document.getElementById('hullClipShape').setAttribute('points', pts(hullMg, hullSi, bx, by));
const bContour = document.getElementById('bContour');
const hullShape = mk('polygon', {points:pts(hullMg, hullSi, bx, by), fill:cbarColors[3]}, bContour);


const midShape = mk('polygon', {points:pts(midMg, midSi, bx, by), fill:cbarColors[2]}, bContour);


const darkShape = mk('polygon', {points:pts(darkMg, darkSi, bx, by), fill:cbarColors[1]}, bContour);


const patchShape = mk('polygon', {points:pts(patchMg, patchSi, bx, by), fill:cbarColors[3]}, bContour);


[[band4Mg,band4Si,4],[band5Mg,band5Si,5],[band6Mg,band6Si,6],[band7Mg,band7Si,7],[band8Mg,band8Si,8],[band9Mg,band9Si,9],[band10Mg,band10Si,10]].forEach(function(b){
  const xs = b[0].concat([40,40,b[0][0]]);
  const ys = b[1].concat([0.2,2,2]);
  const poly = mk('polygon', {points:pts(xs, ys, bx, by), fill:cbarColors[b[2]]}, bContour);
  
  
});
const bDots = document.getElementById('bDots');
sampleMg.forEach(function(v,i){
  const d = mk('circle', {cx:bx(v),cy:by(sampleSi[i]),r:3.6,fill:'#000'}, bDots);
  
  
});
const bTicks = document.getElementById('bTicks');
bXTicks.forEach(function(v){
  const t = mk('line', {x1:bx(v),x2:bx(v),y1:2461,y2:2475,stroke:'#333','stroke-width':2.5}, bTicks);
  
  
  const l = mk('text', {x:bx(v),y:2520,'font-size':36,'text-anchor':'middle'}, bTicks);
  l.textContent = String(v);
  
  
});
bYTicks.forEach(function(v,i){
  const t = mk('line', {x1:227,x2:241,y1:by(v),y2:by(v),stroke:'#333','stroke-width':2.5}, bTicks);
  
  
  const l = mk('text', {x:212,y:by(v)+13,'font-size':36,'text-anchor':'end'}, bTicks);
  l.textContent = bYTickLabels[i];
  
  
});
function latticeY(v){return 2461-(v-4.03)*9180;}
const bBar = document.getElementById('bBar');
cbarColors.forEach(function(c,i){
  const top = latticeY(cbarLevels[i+1]), bot = latticeY(cbarLevels[i]);
  const r = mk('rect', {x:1568,y:top,width:29,height:bot-top+0.5,fill:c}, bBar);
  
  
});
cbarTicks.forEach(function(v){
  const t = mk('line', {x1:1597,x2:1611,y1:latticeY(v),y2:latticeY(v),stroke:'#333','stroke-width':2.5}, bBar);
  
  
  const l = mk('text', {x:1625,y:latticeY(v)+13,'font-size':36}, bBar);
  l.textContent = v.toFixed(2);
  
  
});

/* ---------- panel c ---------- */
const cMarks = document.getElementById('cMarks');
scatterMg.forEach(function(v,i){
  const d = mk('circle', {cx:cx(v),cy:cy(scatterMgss[i]),r:12.5,fill:'#1f77b4'}, cMarks);
  
  
});
const identity = mk('polyline', {points:pts(identityMg, identityMgss, cx, cy), fill:'none', stroke:'#888', 'stroke-width':3.5, 'stroke-dasharray':'13 5.6'}, cMarks);


const fit = mk('polyline', {points:pts(fitLineMg, fitLineMgss, cx, cy), fill:'none', stroke:'#000', 'stroke-width':3.5, 'stroke-dasharray':'22.4 5.6 3.5 5.6'}, cMarks);


const cTicks = document.getElementById('cTicks');
cXTicks.forEach(function(v){
  const t = mk('line', {x1:cx(v),x2:cx(v),y1:2464,y2:2478,stroke:'#333','stroke-width':2.5}, cTicks);
  
  
  const l = mk('text', {x:cx(v),y:2521,'font-size':36,'text-anchor':'middle'}, cTicks);
  l.textContent = String(v);
  
  
});
cYTicks.forEach(function(v){
  const t = mk('line', {x1:1900,x2:1914,y1:cy(v),y2:cy(v),stroke:'#333','stroke-width':2.5}, cTicks);
  
  
  const l = mk('text', {x:1885,y:cy(v)+13,'font-size':36,'text-anchor':'end'}, cTicks);
  l.textContent = String(v);
  
  
});
</script>
</body>
</html>
